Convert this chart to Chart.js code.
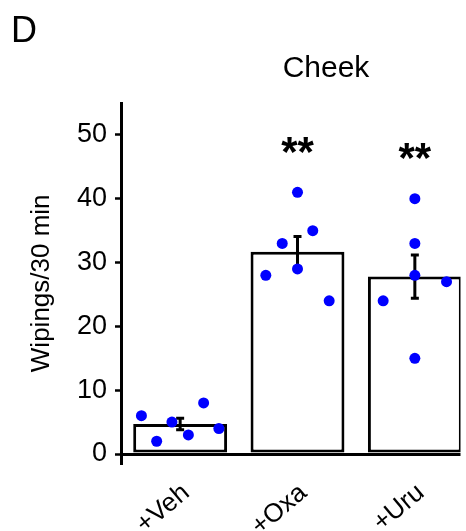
<!DOCTYPE html>
<html>
<head>
<meta charset="utf-8">
<script src="https://cdn.jsdelivr.net/npm/chart.js@4/dist/chart.umd.min.js"></script>
<style>
  body { margin: 0; background: #fff; }
  canvas { display: block; }
</style>
</head>
<body>
<canvas id="chart" width="466" height="531"></canvas>
<script>
// DATA
const groups = ["+Veh", "+Oxa", "+Uru"];
const meanValues = [4.7, 31.7, 27.8];
const semValues = [0.9, 2.4, 3.4];
const vehPoints = [6, 2, 5, 3, 8, 4];
const oxaPoints = [41, 35, 33, 28, 29, 24];
const uruPoints = [40, 33, 28, 27, 24, 15];
const vehJitter = [-0.33, -0.2, -0.07, 0.07, 0.2, 0.33];
const oxaJitter = [0, 0.13, -0.13, -0.27, 0, 0.27];
const uruJitter = [0, 0, 0, 0.27, -0.27, 0];
const sigMarks = ["", "**", "**"];
const yTicks = [0, 10, 20, 30, 40, 50];

const FONT = "'Liberation Sans', Arial, sans-serif";

const allPoints = [vehPoints, oxaPoints, uruPoints];
const allJitter = [vehJitter, oxaJitter, uruJitter];
let scatterData = [];
allPoints.forEach((pts, i) => {
    pts.forEach((v, j) => scatterData.push({ x: i + allJitter[i][j], y: v }));
});

// error bars, stars, panel letter and title
const extras = {
    id: "extras",
    afterDatasetDraw(chart, args) {
        if (args.index !== 0) return;
        const ctx = chart.ctx;
        const xs = chart.scales.x, ys = chart.scales.y;
        ctx.save();
        ctx.strokeStyle = "#000";
        ctx.lineWidth = 3;
        meanValues.forEach((m, i) => {
            const x = xs.getPixelForValue(i);
            const top = ys.getPixelForValue(m + semValues[i]);
            const bot = ys.getPixelForValue(m - semValues[i]);
            ctx.beginPath();
            ctx.moveTo(x, top); ctx.lineTo(x, bot);
            ctx.moveTo(x - 4, top); ctx.lineTo(x + 4, top);
            ctx.moveTo(x - 4, bot); ctx.lineTo(x + 4, bot);
            ctx.stroke();
        });
        ctx.restore();
    },
    afterDraw(chart) {
        const ctx = chart.ctx;
        const xs = chart.scales.x, ys = chart.scales.y;
        ctx.save();
        ctx.fillStyle = "#000";
        ctx.textAlign = "center";
        ctx.textBaseline = "middle";
        ctx.font = "bold 42px " + FONT;
        sigMarks.forEach((s, i) => {
            if (!s) return;
            const maxV = Math.max(...allPoints[i]);
            ctx.fillText(s, xs.getPixelForValue(i), ys.getPixelForValue(maxV) - 38);
        });
        ctx.textBaseline = "alphabetic";
        ctx.font = "30px " + FONT;
        ctx.fillText("Cheek", 326, 77);
        ctx.textAlign = "left";
        ctx.font = "36px " + FONT;
        ctx.fillText("D", 11, 42);
        ctx.restore();
    }
};

new Chart(document.getElementById("chart"), {
    type: "bar",
    data: {
        datasets: [
            {
                type: "bar",
                data: meanValues.map((v, i) => ({ x: i, y: v })),
                backgroundColor: "#fff",
                borderColor: "#000",
                borderWidth: 3,
                borderSkipped: false,
                barPercentage: 0.8,
                categoryPercentage: 1,
                order: 2
            },
            {
                type: "scatter",
                data: scatterData,
                backgroundColor: "#0000ff",
                borderWidth: 0,
                pointRadius: 5.5,
                order: 1
            }
        ]
    },
    plugins: [extras],
    options: {
        responsive: false,
        animation: false,
        layout: { padding: { top: 103, left: 0, right: 0, bottom: 0 } },
        plugins: { legend: { display: false }, tooltip: { enabled: false } },
        scales: {
            x: {
                type: "linear",
                offset: false,
                min: -0.504,
                max: 2.389,
                afterFit: s => { s.height = 67.4; s.paddingLeft = 0; s.paddingRight = 0; },
                afterBuildTicks: s => { s.ticks = groups.map((g, i) => ({ value: i })); },
                grid: { display: false },
                border: { display: false },
                ticks: {
                    color: "#000",
                    font: { family: FONT, size: 26 },
                    minRotation: 40,
                    maxRotation: 40,
                    labelOffset: 6,
                    padding: 6,
                    callback: v => groups[v]
                }
            },
            y: {
                min: -1.5,
                max: 55,
                afterFit: s => { s.width = 121; },
                afterBuildTicks: s => { s.ticks = yTicks.map(v => ({ value: v })); },
                border: { display: true, color: "#000", width: 3 },
                grid: {
                    color: c => (c.tick && c.tick.value === 0 ? "#000" : "rgba(0,0,0,0)"),
                    lineWidth: 3,
                    tickColor: "#000",
                    tickWidth: 2.5,
                    tickLength: 6
                },
                ticks: {
                    color: "#000",
                    font: { family: FONT, size: 27 },
                    padding: 8
                },
                title: {
                    display: true,
                    text: "Wipings/30 min",
                    color: "#000",
                    font: { family: FONT, size: 26 },
                    padding: { top: 26, bottom: 0 }
                }
            }
        }
    }
});
</script>
</body>
</html>
